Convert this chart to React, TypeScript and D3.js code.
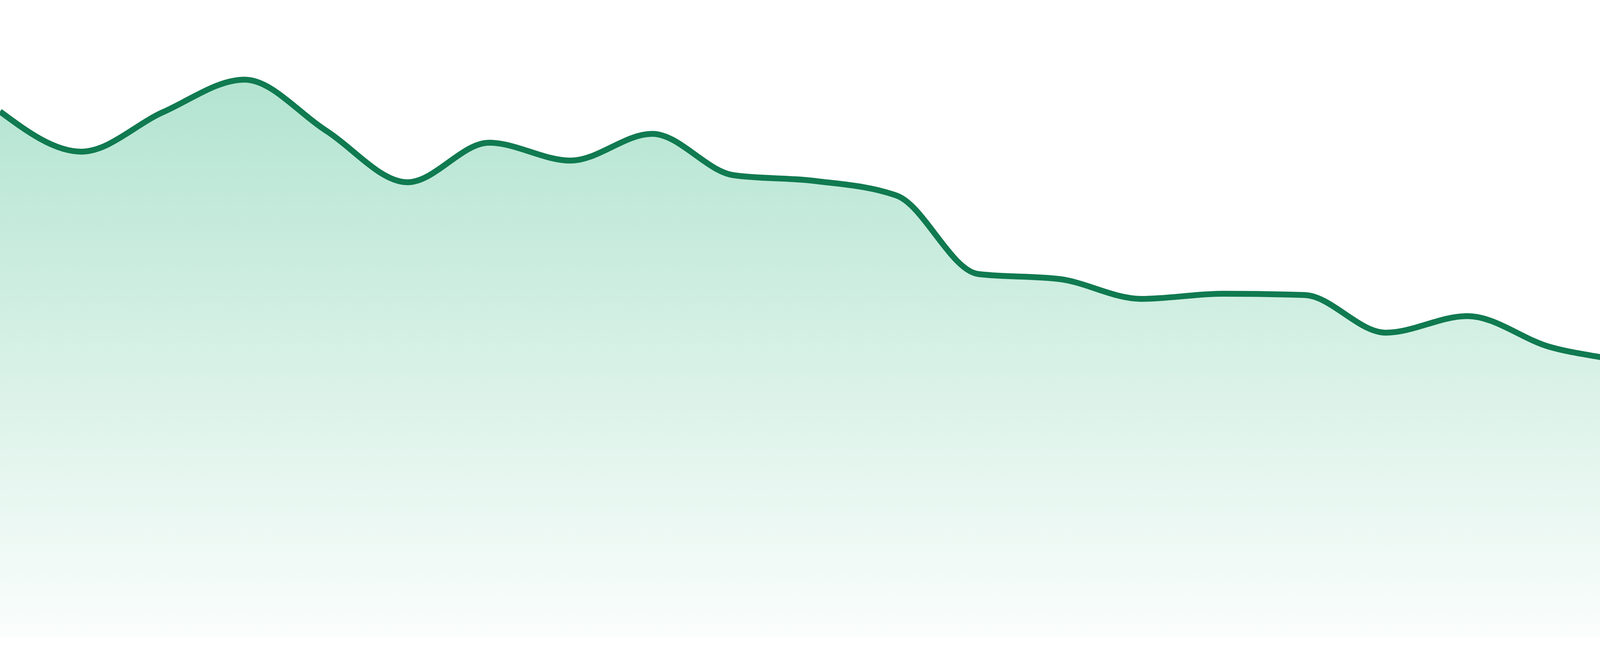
import React from "react";
import * as d3 from "d3";

// ---- data ----
const categories: string[] = [
  "P01", "P02", "P03", "P04", "P05", "P06", "P07", "P08",
  "P09", "P10", "P11", "P12", "P13", "P14", "P15", "P16",
  "P17", "P18", "P19", "P20", "P21", "P22", "P23", "P24",
];
const values: number[] = [
  82.5, 76.2, 82.4, 87.5, 79.5, 71.4, 77.6, 74.8,
  79.0, 72.5, 71.6, 69.3, 57.0, 56.2, 53.1, 53.9,
  53.7, 47.8, 50.4, 45.6, 42.9, 38.1, 39.0, 37.6,
];
const yDomain: [number, number] = [0, 100];

const W = 4800;
const H = 1680;
const PLOT_BOTTOM = 1632;

export default function App() {
  const x = d3
    .scalePoint<string>()
    .domain(categories)
    .range([0, W]);
  const y = d3.scaleLinear().domain(yDomain).range([PLOT_BOTTOM, 0]);

  const pts = categories.map((c, i) => ({ c, v: values[i] }));

  const area = d3
    .area<{ c: string; v: number }>()
    .x((d) => x(d.c) as number)
    .y0(y(0))
    .y1((d) => y(d.v))
    .curve(d3.curveMonotoneX);

  const line = d3
    .line<{ c: string; v: number }>()
    .x((d) => x(d.c) as number)
    .y((d) => y(d.v))
    .curve(d3.curveMonotoneX);

  return (
    <svg
      width={W}
      height={H}
      viewBox={`0 0 ${W} ${H}`}
      style={{ position: "absolute", left: 0, top: 0, display: "block", background: "#ffffff" }}
    >
      <defs>
        <linearGradient id="areaFill" gradientUnits="userSpaceOnUse" x1="0" y1="0" x2="0" y2={PLOT_BOTTOM}>
          <stop offset="0%" stopColor="rgb(22,172,112)" stopOpacity={0.37} />
          <stop offset="100%" stopColor="rgb(22,172,112)" stopOpacity={0.02} />
        </linearGradient>
      </defs>
      <path d={area(pts) ?? ""} fill="url(#areaFill)" stroke="none" />
      <path
        d={line(pts) ?? ""}
        fill="none"
        stroke="#107a50"
        strokeWidth={15}
        strokeLinejoin="round"
        strokeLinecap="butt"
      />
    </svg>
  );
}
